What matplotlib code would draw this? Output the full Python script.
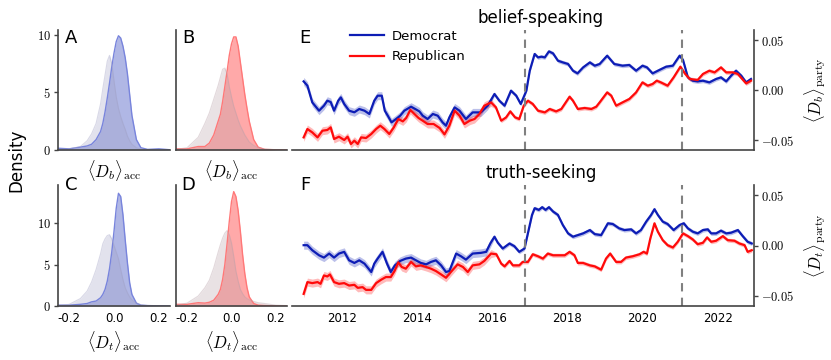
import numpy as np
import matplotlib
matplotlib.use("Agg")
import matplotlib.pyplot as plt
from matplotlib.lines import Line2D
from matplotlib.ticker import FuncFormatter

plt.rcParams["mathtext.fontset"] = "cm"
plt.rcParams["axes.unicode_minus"] = False
plt.rcParams["font.family"] = ["DejaVu Sans"]

# density curves, read at a shared grid of values
grid = [-0.25, -0.2, -0.15, -0.12, -0.1, -0.08, -0.06, -0.05, -0.04, -0.03, -0.02, -0.01, 0.0,
        0.01, 0.02, 0.03, 0.04, 0.05, 0.06, 0.07, 0.08, 0.1, 0.12, 0.15, 0.2, 0.25]
dens_b_dem = [0.15, 0.1, 0.25, 0.35, 0.5, 0.9, 1.6, 2.3, 3.3, 4.5, 5.8, 7.2, 8.4,
              9.4, 9.9, 9.7, 9.0, 8.0, 6.6, 4.8, 3.0, 0.9, 0.2, 0.05, 0.1, 0.02]
dens_b_all_a = [0.05, 0.1, 0.3, 0.8, 1.4, 2.3, 4.0, 5.3, 6.5, 7.7, 8.2, 7.5, 6.0,
                4.6, 3.6, 2.9, 2.3, 1.8, 1.2, 0.8, 0.5, 0.2, 0.08, 0.03, 0.01, 0.0]
dens_b_rep = [0.1, 0.1, 0.3, 0.3, 0.6, 1.3, 2.5, 3.1, 4.2, 5.5, 6.8, 8.2, 9.2,
              9.8, 9.8, 9.0, 7.6, 6.2, 4.8, 3.6, 2.5, 0.9, 0.25, 0.05, 0.02, 0.0]
dens_b_all_b = [0.05, 0.2, 1.1, 2.3, 3.2, 4.4, 5.6, 6.3, 7.0, 7.1, 6.6, 5.5, 4.6,
                3.8, 3.2, 2.6, 2.1, 1.7, 1.3, 1.0, 0.7, 0.4, 0.2, 0.08, 0.02, 0.0]
dens_t_dem = [0.1, 0.1, 0.2, 0.3, 0.5, 0.6, 1.0, 1.4, 2.0, 3.0, 4.5, 6.5, 9.0,
              11.8, 13.6, 13.2, 11.0, 8.0, 5.2, 2.8, 1.4, 0.35, 0.1, 0.05, 0.02, 0.0]
dens_t_all_c = [0.05, 0.2, 0.9, 1.8, 2.9, 4.4, 6.3, 7.5, 8.1, 8.5, 8.6, 8.1, 7.3,
                6.5, 5.7, 4.4, 3.2, 2.2, 1.6, 1.1, 0.75, 0.35, 0.15, 0.05, 0.02, 0.0]
dens_t_rep = [0.2, 0.2, 0.4, 0.35, 0.45, 0.7, 1.4, 2.0, 3.2, 5.0, 7.5, 10.2, 12.6,
              13.8, 13.2, 11.5, 9.0, 6.2, 3.9, 2.2, 1.1, 0.3, 0.1, 0.05, 0.02, 0.0]
dens_t_all_d = [0.1, 0.35, 1.2, 2.2, 3.1, 4.6, 6.5, 7.4, 8.2, 8.8, 9.1, 8.6, 7.6,
                6.0, 4.2, 3.0, 2.0, 1.5, 1.1, 0.9, 0.75, 0.55, 0.4, 0.3, 0.1, 0.05]

# party time series (values in thousandths)
yr_b_dem = [2010.98, 2011.08, 2011.21, 2011.39, 2011.52, 2011.61, 2011.70, 2011.79, 2011.90, 2011.97,
            2012.06, 2012.19, 2012.33, 2012.46, 2012.60, 2012.73, 2012.86, 2012.95, 2013.06, 2013.14,
            2013.22, 2013.32, 2013.44, 2013.55, 2013.66, 2013.84, 2013.95, 2014.06, 2014.15, 2014.28,
            2014.42, 2014.55, 2014.68, 2014.77, 2014.86, 2015.00, 2015.13, 2015.30, 2015.48, 2015.70,
            2015.88, 2016.06, 2016.19, 2016.33, 2016.50, 2016.64, 2016.76, 2016.91, 2017.00, 2017.13,
            2017.22, 2017.31, 2017.40, 2017.51, 2017.62, 2017.75, 2017.88, 2018.02, 2018.15, 2018.27,
            2018.42, 2018.60, 2018.73, 2018.86, 2019.06, 2019.25, 2019.47, 2019.65, 2019.83, 2020.00,
            2020.12, 2020.27, 2020.45, 2020.63, 2020.81, 2020.99, 2021.08, 2021.21, 2021.34, 2021.47,
            2021.61, 2021.78, 2021.96, 2022.09, 2022.23, 2022.36, 2022.49, 2022.63, 2022.76, 2022.89]
b_dem = [8.6, 4.3, -12.4, -20.7, -15.7, -10.7, -12.0, -20.7, -10.7, -7.4,
         -14.0, -20.7, -22.3, -19.0, -20.7, -24.0, -10.7, -5.7, -5.7, -20.7,
         -25.7, -32.4, -29.0, -25.7, -20.7, -16.7, -19.0, -21.4, -25.7, -29.0,
         -24.0, -25.7, -32.4, -35.7, -27.4, -17.4, -20.7, -29.0, -22.4, -22.4,
         -15.7, -4.0, -10.7, -15.7, -0.7, -5.7, -14.0, -0.7, 19.3, 36.0,
         32.6, 33.3, 32.6, 38.6, 36.6, 29.3, 27.6, 26.0, 19.3, 16.6,
         22.6, 27.6, 24.3, 26.0, 34.3, 26.0, 24.3, 25.0, 19.3, 24.3,
         22.6, 16.6, 20.0, 23.3, 24.3, 34.3, 30.0, 12.6, 9.3, 8.6,
         9.3, 7.6, 11.0, 12.6, 8.6, 14.3, 19.3, 14.3, 7.6, 11.0]

yr_b_rep = [2010.98, 2011.08, 2011.21, 2011.35, 2011.48, 2011.61, 2011.70, 2011.79, 2011.92, 2012.06,
            2012.15, 2012.24, 2012.33, 2012.42, 2012.51, 2012.64, 2012.78, 2012.91, 2013.02, 2013.13,
            2013.26, 2013.38, 2013.50, 2013.62, 2013.71, 2013.82, 2013.93, 2014.04, 2014.15, 2014.28,
            2014.44, 2014.60, 2014.73, 2014.86, 2015.00, 2015.13, 2015.26, 2015.40, 2015.53, 2015.66,
            2015.79, 2015.97, 2016.10, 2016.24, 2016.37, 2016.48, 2016.61, 2016.72, 2016.84, 2016.95,
            2017.08, 2017.22, 2017.40, 2017.53, 2017.70, 2017.84, 2018.06, 2018.15, 2018.28, 2018.46,
            2018.64, 2018.77, 2018.86, 2019.06, 2019.17, 2019.30, 2019.47, 2019.65, 2019.83, 2020.00,
            2020.14, 2020.27, 2020.38, 2020.49, 2020.67, 2020.83, 2021.01, 2021.14, 2021.26, 2021.47,
            2021.61, 2021.78, 2021.92, 2022.09, 2022.23, 2022.41, 2022.54, 2022.76, 2022.89]
b_rep = [-47.4, -39.0, -42.4, -47.4, -40.7, -40.0, -37.4, -49.0, -46.7, -50.0,
         -46.7, -54.0, -50.7, -54.0, -47.4, -48.0, -44.0, -39.0, -35.7, -39.0,
         -44.0, -37.4, -29.0, -31.4, -28.0, -20.0, -24.0, -28.0, -30.7, -34.0,
         -34.0, -38.0, -44.4, -35.7, -20.7, -25.7, -34.0, -30.7, -29.0, -24.0,
         -15.7, -12.4, -17.4, -30.7, -27.4, -21.4, -27.4, -29.0, -15.7, -10.7,
         -14.0, -20.7, -22.4, -19.0, -21.4, -19.0, -6.7, -10.7, -19.0, -18.0,
         -19.0, -16.7, -12.4, -2.4, -5.7, -15.7, -12.4, -9.0, -2.4, 7.6,
         4.3, 6.0, 9.3, 7.6, 4.3, 12.6, 23.3, 16.0, 11.0, 10.0,
         16.0, 19.3, 17.6, 22.6, 17.6, 17.6, 16.0, 6.6, 9.3]

yr_t_dem = [2010.98, 2011.08, 2011.21, 2011.39, 2011.52, 2011.66, 2011.79, 2011.92, 2012.06, 2012.19,
            2012.33, 2012.46, 2012.60, 2012.78, 2012.86, 2012.95, 2013.08, 2013.20, 2013.30, 2013.41,
            2013.55, 2013.70, 2013.84, 2013.97, 2014.10, 2014.24, 2014.37, 2014.50, 2014.64, 2014.77,
            2014.86, 2015.04, 2015.17, 2015.30, 2015.48, 2015.70, 2015.84, 2015.95, 2016.06, 2016.15,
            2016.28, 2016.46, 2016.59, 2016.72, 2016.86, 2016.95, 2017.06, 2017.13, 2017.24, 2017.33,
            2017.42, 2017.51, 2017.62, 2017.75, 2017.88, 2018.02, 2018.15, 2018.28, 2018.42, 2018.60,
            2018.73, 2018.90, 2019.08, 2019.21, 2019.38, 2019.52, 2019.70, 2019.83, 2019.96, 2020.10,
            2020.23, 2020.32, 2020.41, 2020.54, 2020.67, 2020.83, 2020.99, 2021.10, 2021.21, 2021.34,
            2021.47, 2021.61, 2021.74, 2021.83, 2021.96, 2022.09, 2022.23, 2022.36, 2022.54, 2022.67,
            2022.80, 2022.91]
t_dem = [0.3, 0.3, -4.7, -9.7, -12.0, -8.0, -12.0, -8.0, -6.3, -14.7,
         -17.3, -14.7, -18.0, -26.3, -18.0, -13.0, -6.3, -18.0, -26.3, -19.7,
         -15.3, -13.0, -12.0, -14.7, -17.3, -18.7, -16.3, -14.7, -19.7, -26.3,
         -25.3, -8.0, -10.7, -14.0, -8.0, -7.3, -6.3, 2.0, 8.7, 2.7,
         -3.0, 2.0, -0.7, -6.3, -3.0, 12.0, 30.3, 37.0, 35.3, 38.0,
         35.3, 38.0, 33.7, 30.3, 20.3, 12.0, 8.7, 10.3, 12.0, 15.3,
         11.3, 10.3, 22.0, 21.3, 17.0, 15.3, 16.0, 12.0, 15.3, 23.7,
         30.3, 36.0, 30.3, 23.7, 21.3, 15.3, 20.3, 22.0, 17.0, 13.7,
         12.0, 15.3, 16.0, 12.0, 12.0, 14.7, 12.0, 12.7, 15.3, 9.3,
         3.7, 2.0]

yr_t_rep = [2010.98, 2011.08, 2011.21, 2011.35, 2011.43, 2011.52, 2011.61, 2011.68, 2011.79, 2011.92,
            2012.06, 2012.19, 2012.33, 2012.42, 2012.55, 2012.64, 2012.78, 2012.91, 2013.04, 2013.17,
            2013.30, 2013.40, 2013.50, 2013.59, 2013.70, 2013.84, 2013.97, 2014.10, 2014.24, 2014.37,
            2014.50, 2014.64, 2014.77, 2014.90, 2015.08, 2015.22, 2015.35, 2015.48, 2015.66, 2015.79,
            2015.97, 2016.11, 2016.24, 2016.33, 2016.46, 2016.55, 2016.72, 2016.81, 2016.95, 2017.08,
            2017.22, 2017.35, 2017.48, 2017.62, 2017.79, 2017.93, 2018.06, 2018.19, 2018.28, 2018.42,
            2018.60, 2018.73, 2018.90, 2019.03, 2019.14, 2019.30, 2019.43, 2019.56, 2019.74, 2019.92,
            2020.03, 2020.12, 2020.21, 2020.32, 2020.41, 2020.54, 2020.67, 2020.81, 2020.94, 2021.08,
            2021.21, 2021.34, 2021.47, 2021.61, 2021.72, 2021.83, 2021.96, 2022.14, 2022.27, 2022.45,
            2022.58, 2022.72, 2022.80, 2022.91]
t_rep = [-48.0, -36.3, -37.3, -36.3, -38.0, -29.7, -30.7, -28.7, -36.3, -38.0,
         -37.3, -39.7, -39.0, -42.0, -41.3, -44.0, -44.0, -37.3, -34.0, -31.3,
         -31.3, -25.3, -16.7, -21.3, -23.0, -16.3, -20.7, -19.7, -21.3, -23.0,
         -25.3, -28.7, -32.0, -26.3, -18.7, -21.3, -26.3, -19.7, -18.7, -15.3,
         -8.0, -8.7, -18.0, -20.7, -15.3, -19.7, -19.7, -16.3, -16.3, -8.7,
         -10.7, -13.0, -8.0, -9.7, -9.7, -9.7, -6.3, -9.7, -17.3, -17.3,
         -19.7, -20.7, -24.0, -13.0, -8.0, -16.3, -16.3, -12.0, -10.7, -8.7,
         -6.3, -8.0, 7.0, 22.0, 13.7, 5.3, 0.3, -2.0, 3.7, 12.0,
         9.3, 6.0, 1.3, 2.7, 8.0, 3.7, 4.7, 9.3, 5.3, 4.7,
         2.0, 0.3, -6.3, -4.7]

# approximate half-width of the shaded band, before / after 2016
ci_early = 0.004
ci_late = 0.002

events = [2016.88, 2021.05]
year_ticks = [2012, 2014, 2016, 2018, 2020, 2022]

DEM = "#0d1db5"
REP = "#ff0a0a"
SPINE = "#444444"

fig = plt.figure(figsize=(8.31, 3.6), dpi=100)
W, H = 831, 360


def box(x0, x1, ytop, ybot):
    return [x0 / W, (H - ybot) / H, (x1 - x0) / W, (ybot - ytop) / H]


ax_a = fig.add_axes(box(58, 170, 30, 150))
ax_b = fig.add_axes(box(176, 287, 30, 150))
ax_e = fig.add_axes(box(292, 754, 30, 150))
ax_c = fig.add_axes(box(58, 170, 185, 306))
ax_d = fig.add_axes(box(176, 287, 185, 306))
ax_f = fig.add_axes(box(292, 754, 185, 306))

int_fmt = FuncFormatter(lambda v, p: "$%d$" % v)
party_fmt = FuncFormatter(lambda v, p: "$%.2f$" % v)


def density(ax, data, base, color, edge, gray, ylim):
    ax.fill_between(grid, data, color=color, alpha=0.4, lw=0)
    ax.plot(grid, data, color=edge, lw=1.0)
    ax.fill_between(grid, base, color=gray, alpha=0.3, lw=0)
    ax.plot(grid, base, color=gray, lw=0.8, alpha=0.4)
    ax.set_xlim(-0.25, 0.25)
    ax.set_ylim(0, ylim)
    for s in ["top", "right"]:
        ax.spines[s].set_visible(False)
    for s in ["left", "bottom"]:
        ax.spines[s].set_color(SPINE)
        ax.spines[s].set_linewidth(1.2)
    ax.set_xticks([-0.2, 0.0, 0.2])
    ax.set_yticks([0, 5, 10])
    ax.yaxis.set_major_formatter(int_fmt)
    ax.tick_params(axis="x", length=0, labelsize=8.5, pad=4)
    ax.tick_params(axis="y", length=3, width=1, color=SPINE, labelsize=9, pad=2)


density(ax_a, dens_b_dem, dens_b_all_a, "#3b4cc0", "#7884dc", "#a0a0c4", 10.4)
density(ax_b, dens_b_rep, dens_b_all_b, "#ff2a2a", "#ff7878", "#b8a0a8", 10.4)
density(ax_c, dens_t_dem, dens_t_all_c, "#3b4cc0", "#7884dc", "#a0a0c4", 14.6)
density(ax_d, dens_t_rep, dens_t_all_d, "#ff2a2a", "#ff7878", "#b8a0a8", 14.6)

for ax in [ax_a, ax_b]:
    ax.set_xticklabels([])
    ax.set_xlabel(r"$\langle D_b\rangle_{\rm acc}$", fontsize=12, labelpad=2)
for ax in [ax_c, ax_d]:
    ax.set_xticklabels(["-0.2", "0.0", "0.2"])
    ax.set_xlabel(r"$\langle D_t\rangle_{\rm acc}$", fontsize=12, labelpad=3)
for ax in [ax_b, ax_d]:
    ax.set_yticks([])


def party(ax, series, ylabel):
    for yrs, vals, color in series:
        x = np.array(yrs)
        y = np.array(vals) / 1000
        ci = np.where(x < 2016, ci_early, ci_late)
        ax.fill_between(x, y - ci, y + ci, color=color, alpha=0.28, lw=0)
        ax.plot(x, y, color=color, lw=1.6)
    for ev in events:
        ax.axvline(ev, color="#808080", lw=1.5, ls=(0, (4, 3)))
    ax.set_xlim(2010.67, 2022.97)
    ax.set_ylim(-0.06, 0.06)
    ax.set_xticks(year_ticks)
    ax.set_yticks([-0.05, 0.0, 0.05])
    ax.yaxis.set_major_formatter(party_fmt)
    ax.yaxis.tick_right()
    ax.yaxis.set_label_position("right")
    ax.set_ylabel(ylabel, fontsize=12, labelpad=6)
    for s in ["top", "left"]:
        ax.spines[s].set_visible(False)
    for s in ["right", "bottom"]:
        ax.spines[s].set_color(SPINE)
        ax.spines[s].set_linewidth(1.2)
    ax.tick_params(axis="x", length=0, labelsize=8.5, pad=4)
    ax.tick_params(axis="y", length=3, width=1, color=SPINE, labelsize=9, pad=2)


party(ax_e, [(yr_b_dem, b_dem, DEM), (yr_b_rep, b_rep, REP)], r"$\langle D_b\rangle_{\rm party}$")
party(ax_f, [(yr_t_dem, t_dem, DEM), (yr_t_rep, t_rep, REP)], r"$\langle D_t\rangle_{\rm party}$")
ax_e.set_xticklabels([])

ax_e.legend([Line2D([], [], color=DEM, lw=1.6), Line2D([], [], color=REP, lw=1.6)],
            ["Democrat", "Republican"], loc="upper left", bbox_to_anchor=(0.125, 1.0),
            frameon=False, fontsize=9.5, handlelength=2.6, borderaxespad=0,
            borderpad=0, labelspacing=0.55, handletextpad=0.6)

ax_e.text(0.539, 1.1, "belief-speaking", transform=ax_e.transAxes, ha="center", va="center", fontsize=12)
ax_f.text(0.539, 1.1, "truth-seeking", transform=ax_f.transAxes, ha="center", va="center", fontsize=12)

for ax, lab, xf, yf in [(ax_a, "A", 0.12, 0.93), (ax_b, "B", 0.11, 0.93), (ax_e, "E", 0.028, 0.93),
                        (ax_c, "C", 0.12, 1.0), (ax_d, "D", 0.11, 1.0), (ax_f, "F", 0.028, 1.0)]:
    ax.text(xf, yf, lab, transform=ax.transAxes, ha="center", va="center", fontsize=13)

fig.text(16 / W, (H - 160) / H, "Density", rotation=90, ha="center", va="center", fontsize=12)

fig.savefig("out.png", dpi=100)
